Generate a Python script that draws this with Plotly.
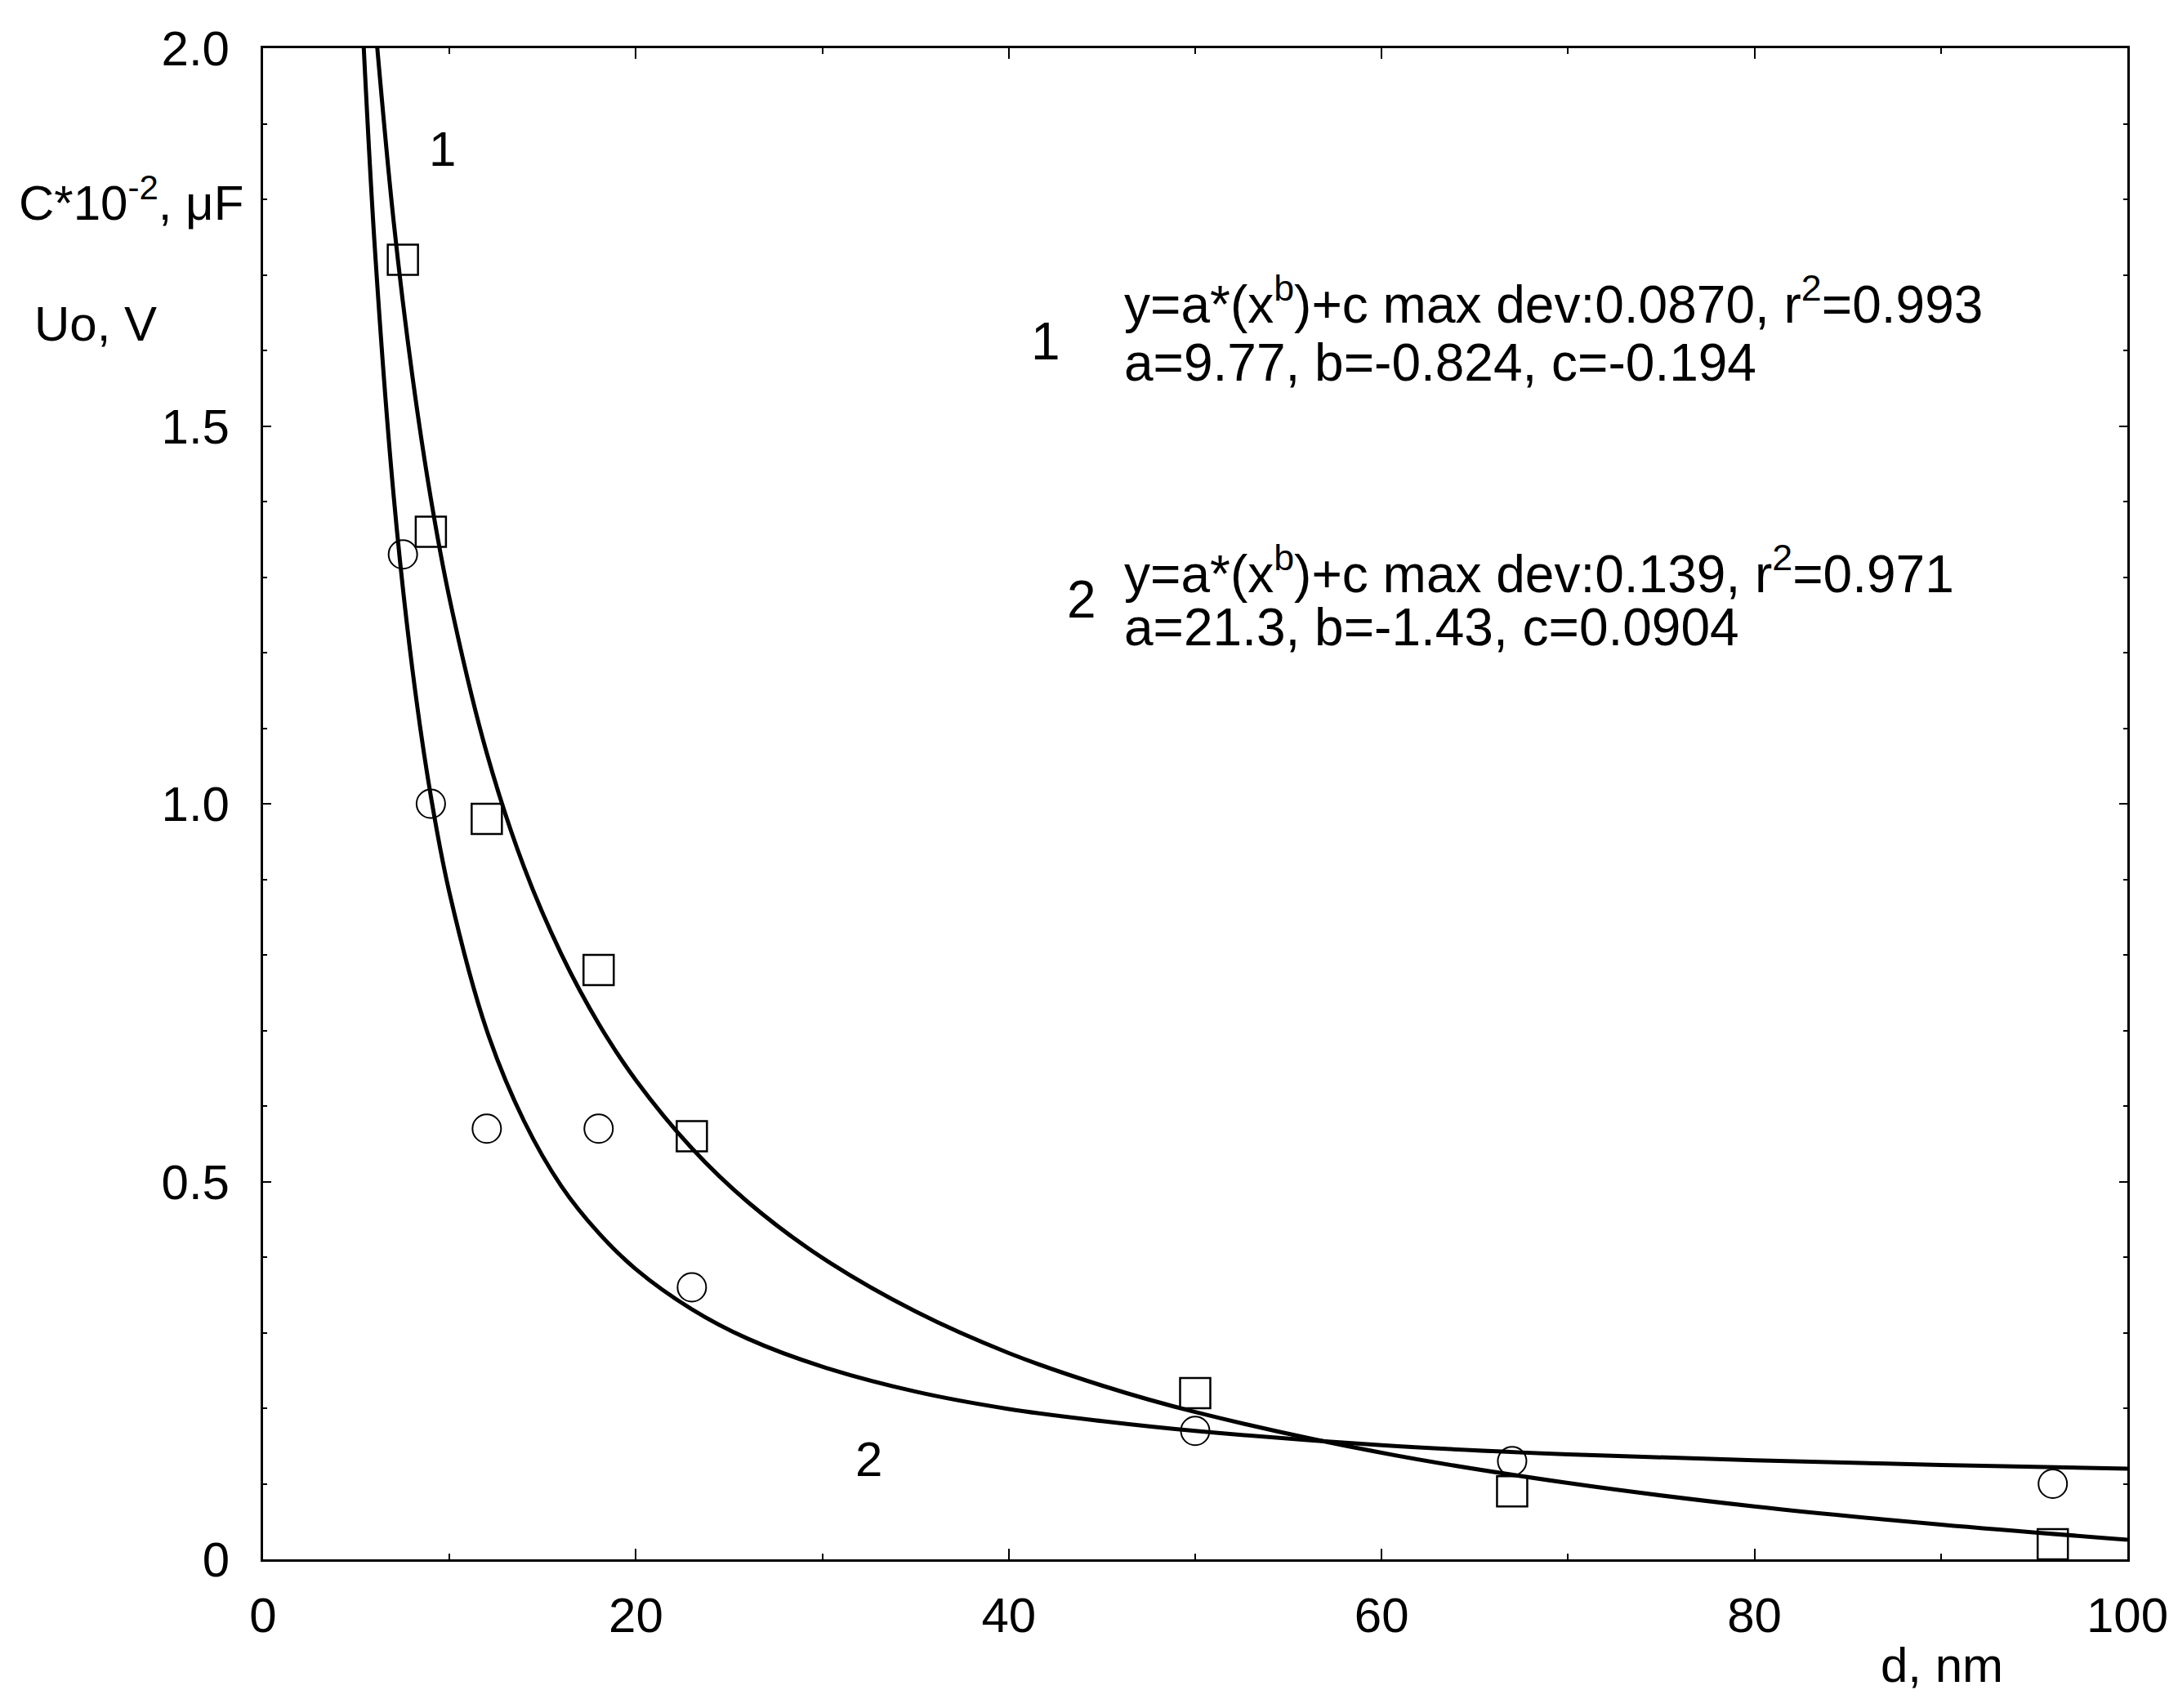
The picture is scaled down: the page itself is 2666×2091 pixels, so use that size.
import plotly.graph_objects as go

# measured points (d, nm)
d_points = [7.5, 9, 12, 18, 23, 50, 67, 96]
c_points = [1.72, 1.36, 0.98, 0.78, 0.56, 0.22, 0.09, 0.02]   # squares, curve 1
u_points = [1.33, 1.00, 0.57, 0.57, 0.36, 0.17, 0.13, 0.10]   # circles, curve 2

# fitted curves
fit1_x = [6.1, 7, 8, 9, 10, 12, 14, 16, 18, 20, 23, 26, 30, 35, 40, 45, 50, 60, 70, 80, 90, 100]
fit1_y = [2.008, 1.772, 1.568, 1.404, 1.272, 1.067, 0.916, 0.801, 0.709, 0.634, 0.544, 0.473,
          0.399, 0.328, 0.273, 0.230, 0.195, 0.141, 0.101, 0.070, 0.046, 0.026]
fit2_x = [5.4, 6, 7, 8, 9, 10, 12, 14, 16, 18, 20, 23, 26, 30, 35, 40, 45, 50, 60, 70, 80, 90, 100]
fit2_y = [2.001, 1.734, 1.409, 1.180, 1.010, 0.882, 0.700, 0.580, 0.494, 0.432, 0.384, 0.331,
          0.292, 0.255, 0.222, 0.199, 0.183, 0.170, 0.151, 0.139, 0.131, 0.125, 0.120]

y_ticks = [0, 0.5, 1.0, 1.5, 2.0]
y_ticktext = ["0", "0.5", "1.0", "1.5", "2.0"]

FONT = "Liberation Sans, Arial, sans-serif"
FS = 60

fig = go.Figure()

fig.add_trace(go.Scatter(x=fit1_x, y=fit1_y, mode="lines", line=dict(color="black", width=5, shape="spline")))
fig.add_trace(go.Scatter(x=fit2_x, y=fit2_y, mode="lines", line=dict(color="black", width=5, shape="spline")))
fig.add_trace(go.Scatter(
    x=d_points, y=c_points, mode="markers",
    marker=dict(symbol="square-open", size=37, color="black", line=dict(width=2.5)),
))
fig.add_trace(go.Scatter(
    x=d_points, y=u_points, mode="markers",
    marker=dict(symbol="circle-open", size=35, color="black", line=dict(width=2)),
))

axis_common = dict(
    showline=True, linecolor="black", linewidth=3, mirror="ticks",
    ticks="inside", tickcolor="black", tickwidth=2,
    showgrid=False, zeroline=False,
    tickfont=dict(family=FONT, size=FS, color="black"),
)

fig.update_xaxes(
    range=[0, 100], tickvals=[0, 20, 40, 60, 80, 100], ticklen=13,
    minor=dict(ticks="inside", tickvals=[10, 30, 50, 70, 90], ticklen=7, tickcolor="black", tickwidth=2),
    ticklabelstandoff=14,
    **axis_common,
)
fig.update_yaxes(
    range=[0, 2.0], tickvals=y_ticks, ticktext=y_ticktext, ticklen=10,
    minor=dict(ticks="inside", dtick=0.1, ticklen=5, tickcolor="black", tickwidth=2),
    ticklabelstandoff=26,
    **axis_common,
)

txt = dict(family=FONT, size=FS, color="black")
note_font = dict(family=FONT, size=64, color="black")
notes = [
    # (x, y, text, anchor)
    (46.1, 1.666, "y=a*(x<sup>b</sup>)+c max dev:0.0870, r<sup>2</sup>=0.993", "left"),
    (46.1, 1.584, "a=9.77, b=-0.824, c=-0.194", "left"),
    (46.1, 1.309, "y=a*(x<sup>b</sup>)+c max dev:0.139, r<sup>2</sup>=0.971", "left"),
    (46.1, 1.233, "a=21.3, b=-1.43, c=0.0904", "left"),
    (42.0, 1.612, "1", "center"),
    (43.9, 1.270, "2", "center"),
]
for x, y, t, a in notes:
    fig.add_annotation(x=x, y=y, xref="x", yref="y", text=t, showarrow=False,
                       xanchor=a, yanchor="middle", font=note_font)

# curve labels
fig.add_annotation(x=9.6, y=1.867, text="1", showarrow=False, font=txt)
fig.add_annotation(x=32.5, y=0.132, text="2", showarrow=False, font=txt)

fig.add_annotation(x=-0.1319, y=0.9, xref="paper", yref="paper", text="C*10<sup>-2</sup>, μF",
                   showarrow=False, xanchor="left", yanchor="middle", font=txt)
fig.add_annotation(x=-0.1235, y=0.8178, xref="paper", yref="paper", text="Uo, V",
                   showarrow=False, xanchor="left", yanchor="middle", font=txt)
fig.add_annotation(x=0.9005, y=-0.070, xref="paper", yref="paper", text="d, nm",
                   showarrow=False, xanchor="center", yanchor="middle", font=txt)

fig.update_layout(
    width=2666, height=2091,
    margin=dict(l=314, r=70, t=51, b=190),
    paper_bgcolor="white", plot_bgcolor="white",
    showlegend=False,
    font=txt,
)

fig.write_html("out.html")
